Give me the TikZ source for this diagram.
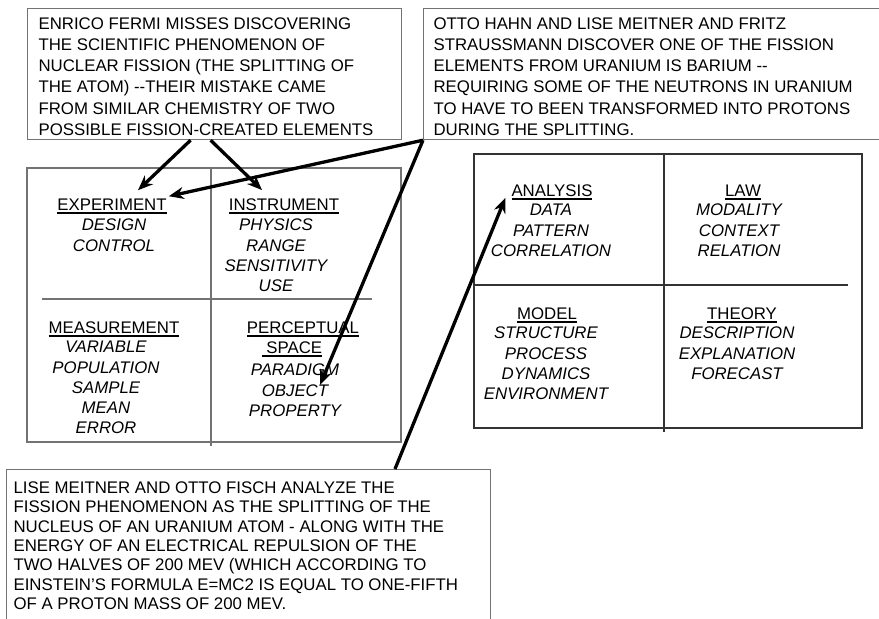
\documentclass[tikz,border=0pt]{standalone}
\usepackage{fontspec}
\setsansfont{Liberation Sans}
\usetikzlibrary{calc,arrows.meta}

% underlined cell heading
\newcommand{\headrule}[1]{\vtop{\hbox{#1}\kern2pt\hrule height 1.5pt}}

\begin{document}
\begin{tikzpicture}[x=1pt, y=-1pt, >={Stealth[length=15pt, width=12pt]},
  font=\sffamily\fontsize{16.8pt}{20.3pt}\selectfont,
  note/.style={draw=black!55, line width=1.2pt, anchor=north west, inner ysep=9pt,
    font=\sffamily\fontsize{16.8pt}{21.2pt}\selectfont},
  grid/.style={draw=black!55, line width=1.2pt},
  head/.style={anchor=base, inner sep=2pt},
  items/.style={anchor=north, align=center, inner sep=0pt,
    font=\sffamily\itshape\fontsize{16.8pt}{20.3pt}\selectfont},
  link/.style={->, line width=3.3pt}]

\useasboundingbox (0,0) rectangle (879,619);

% ==================== NOTES ====================
\node[note, inner xsep=11pt] (fermi) at (27,8) {\begin{minipage}[t][113pt][t]{352pt}
ENRICO FERMI MISSES DISCOVERING\\
THE SCIENTIFIC PHENOMENON OF\\
NUCLEAR FISSION (THE SPLITTING OF\\
THE ATOM) -\kern0pt-THEIR MISTAKE CAME\\
FROM SIMILAR CHEMISTRY OF TWO\\
POSSIBLE FISSION-CREATED ELEMENTS\end{minipage}};

\node[note, inner xsep=10pt] (hahn) at (423,8) {\begin{minipage}[t][113pt][t]{470pt}
OTTO HAHN AND LISE MEITNER AND FRITZ\\
STRAUSSMANN DISCOVER ONE OF THE FISSION\\
ELEMENTS FROM URANIUM IS BARIUM -\kern0pt-\\
REQUIRING SOME OF THE NEUTRONS IN URANIUM\\
TO HAVE TO BEEN TRANSFORMED INTO PROTONS\\
DURING THE SPLITTING.\end{minipage}};

\node[note, inner xsep=7pt, inner ysep=12pt] (meitner) at (6,469) {\begin{minipage}[t][200pt][t]{470pt}
\fontsize{16.8pt}{19.4pt}\selectfont
LISE MEITNER AND OTTO FISCH ANALYZE THE\\
FISSION PHENOMENON AS THE SPLITTING OF THE\\
NUCLEUS OF AN URANIUM ATOM - ALONG WITH THE\\
ENERGY OF AN ELECTRICAL REPULSION OF THE\\
TWO HALVES OF 200 MEV (WHICH ACCORDING TO\\
EINSTEIN'S FORMULA E=MC2 IS EQUAL TO ONE-FIFTH\\
OF A PROTON MASS OF 200 MEV.\end{minipage}};

% ==================== LEFT GRID ====================
\draw[grid] (27,168) rectangle (401,442);
\draw[grid] (211,168) -- (211,446);
\draw[grid] (42,299) -- (372,299);

\node[head] (exp) at (112,210) {\headrule{EXPERIMENT}};
\node[items] (expl) at (114,219) {DESIGN\\CONTROL};

\node[head] (ins) at (284,210) {\headrule{INSTRUMENT}};
\node[items] (insl) at (276,219) {PHYSICS\\RANGE\\SENSITIVITY\\USE};

\node[head] (mea) at (114,333) {\headrule{MEASUREMENT}};
\node[items] (meal) at (106,341) {VARIABLE\\POPULATION\\SAMPLE\\MEAN\\ERROR};

\node[head] (per) at (303,333) {\headrule{PERCEPTUAL}};
\node[head] (spa) at (292,353) {\headrule{\ SPACE}};
\node[items] (perl) at (295,364) {PARADIGM\\OBJECT\\PROPERTY};

% ==================== RIGHT GRID ====================
\draw[grid, draw=black!80] (474,154) rectangle (862,428);
\draw[grid, draw=black!80] (664,154) -- (664,432);
\draw[grid, draw=black!80] (474,285) -- (848,285);

\node[head] (ana) at (552,196) {\headrule{ANALYSIS}};
\node[items] (anal) at (551,204) {DATA\\PATTERN\\CORRELATION};

\node[head] (law) at (743,196) {\headrule{LAW}};
\node[items] (lawl) at (739,204) {MODALITY\\CONTEXT\\RELATION};

\node[head] (mod) at (547,319) {\headrule{MODEL}};
\node[items] (modl) at (546,327) {STRUCTURE\\PROCESS\\DYNAMICS\\ENVIRONMENT};

\node[head] (the) at (742,319) {\headrule{THEORY}};
\node[items] (thel) at (737,327) {DESCRIPTION\\EXPLANATION\\FORECAST};

% ==================== LINKS ====================
\draw[link] ($(fermi.south)+(-24,0)$) -- ($(exp.north)+(26,-6)$);
\draw[link] ($(fermi.south)+(-4,0)$) -- ($(ins.north)+(-22,-6)$);
\draw[link] (hahn.south west) -- (exp.north east);
\draw[link] (hahn.south west) -- ($(perl.north)+(25,21)$);
\draw[link] ($(meitner.north west)+(389,0)$) -- ($(ana.south west)+(-4,-4)$);

\end{tikzpicture}
\end{document}
